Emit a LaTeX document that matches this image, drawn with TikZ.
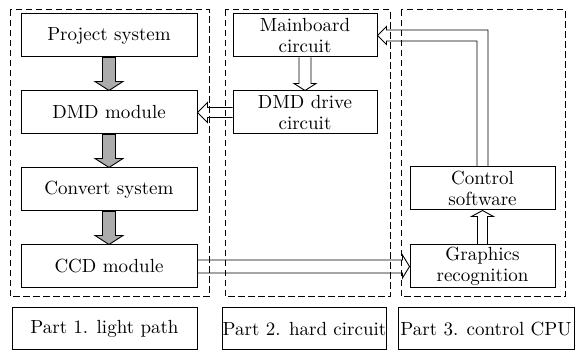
\documentclass[tikz,border=0pt]{standalone}
\usepackage{fontspec}
\setmainfont{lmroman10-regular.otf}
\usetikzlibrary{positioning}

\begin{document}
\begin{tikzpicture}[
  x=1pt, y=-1pt,
  box/.style={draw, line width=1pt, minimum width=#1, minimum height=43pt,
              inner sep=0pt, align=center, font=\fontsize{19}{20.5}\selectfont},
  box/.default=176pt,
  lbl/.style={draw, line width=1pt, minimum width=#1, minimum height=42pt,
              inner sep=0pt, font=\fontsize{19}{20.5}\selectfont},
  part/.style={draw, dash pattern=on 6.5pt off 3.5pt, line width=1pt},
  fatarr/.style={draw, fill=gray!65, line width=0.9pt},
  hollow/.style={draw, line width=0.9pt},
]
  \useasboundingbox (0,0) rectangle (576,352);

  % the three parts
  \draw[part] (10,10) rectangle (209,297);
  \draw[part] (225,10) rectangle (390,297);
  \draw[part] (401,10) rectangle (565,297);

  % part 1: light path
  \node[box] (proj) at (109,35.5) {Project system};
  \node[box, below=33pt of proj] (dmd)  {DMD module};
  \node[box, below=33pt of dmd]  (conv) {Convert system};
  \node[box, below=33pt of conv] (ccd)  {CCD module};

  % part 2: hard circuit
  \node[box=144pt, right=35pt of dmd]    (drive) {DMD drive\\circuit};
  \node[box=144pt, above=33pt of drive]  (main)  {Mainboard\\circuit};

  % part 3: control CPU
  \node[box=145pt, right=212pt of ccd]   (graph) {Graphics\\recognition};
  \node[box=145pt, above=34pt of graph]  (ctrl)  {Control\\software};

  % captions
  \node[lbl=185pt] (cap1) at (104.5,329) {Part 1. light path};
  \node[lbl=163pt] (cap2) at (304.5,329) {Part 2. hard circuit};
  \node[lbl=176pt] (cap3) at (486,329)   {Part 3. control CPU};

  % light path arrows
  \draw[fatarr] (proj.south) ++(-6.5,0) -- ++(0,24) -- ++(-7.5,0) -- (dmd.north)
    -- ++(14,-9) -- ++(-7.5,0) -- ++(0,-24) -- cycle;
  \draw[fatarr] (dmd.south) ++(-6.5,0) -- ++(0,24) -- ++(-7.5,0) -- (conv.north)
    -- ++(14,-9) -- ++(-7.5,0) -- ++(0,-24) -- cycle;
  \draw[fatarr] (conv.south) ++(-6.5,0) -- ++(0,24) -- ++(-7.5,0) -- (ccd.north)
    -- ++(14,-9) -- ++(-7.5,0) -- ++(0,-24) -- cycle;

  % signal arrows
  \draw[hollow] (main.south) ++(-6,0) -- ++(0,26) -- ++(-5,0) -- (drive.north)
    -- ++(11,-7) -- ++(-5,0) -- ++(0,-26);
  \draw[hollow] (drive.west) ++(0,-5) -- ++(-25,0) -- ++(0,-5) -- (dmd.east)
    -- ++(10,10) -- ++(0,-5) -- ++(25,0);
  \draw[hollow] (ccd.east) ++(0,-6.5) -- ++(205,0) -- ++(0,-5) -- (graph.west)
    -- ++(-7,11.5) -- ++(0,-5) -- ++(-205,0);
  \draw[hollow] (graph.north) ++(-5,0) -- ++(0,-28) -- ++(-6,0) -- (ctrl.south)
    -- ++(11,6) -- ++(-6,0) -- ++(0,28);
  \draw[hollow] (ctrl.north) ++(5.5,0) |- ([xshift=9pt,yshift=5.5pt]main.east)
    -- ++(0,-3.5) -- (main.east) -- ++(9,9) -- ++(0,-3.5)
    -| ([xshift=-5.5pt]ctrl.north);
\end{tikzpicture}
\end{document}
